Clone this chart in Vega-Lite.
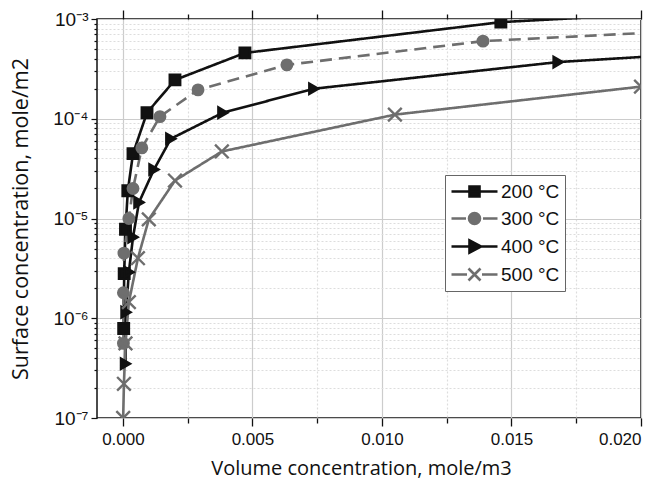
{
  "$schema": "https://vega.github.io/schema/vega-lite/v6.json",
  "width": 544,
  "height": 399,
  "autosize": {"type": "none"},
  "padding": {"left": 97, "top": 19, "right": 26, "bottom": 72},
  "background": "white",
  "config": {
    "view": {"stroke": "#111", "strokeWidth": 1.5},
    "axis": {"labelFont": "Liberation Sans", "titleFont": "Open Sans", "titleFontWeight": "normal", "labelColor": "#111", "titleColor": "#111"}
  },
  "data": {"values": [
    {"T": "200 °C", "x": 0.025, "y": 0.0013},
    {"T": "200 °C", "x": 0.01459, "y": 0.00093},
    {"T": "200 °C", "x": 0.00471, "y": 0.000457},
    {"T": "200 °C", "x": 0.00201, "y": 0.000245},
    {"T": "200 °C", "x": 0.00093, "y": 0.000115},
    {"T": "200 °C", "x": 0.00039, "y": 0.0000447},
    {"T": "200 °C", "x": 0.00019, "y": 0.000019},
    {"T": "200 °C", "x": 0.0001, "y": 0.0000078},
    {"T": "200 °C", "x": 0.00005, "y": 0.0000028},
    {"T": "200 °C", "x": 0.00003, "y": 0.00000079},
    {"T": "300 °C", "x": 0.025, "y": 0.00084},
    {"T": "300 °C", "x": 0.0139, "y": 0.0006},
    {"T": "300 °C", "x": 0.00633, "y": 0.000347},
    {"T": "300 °C", "x": 0.0029, "y": 0.000195},
    {"T": "300 °C", "x": 0.00143, "y": 0.000105},
    {"T": "300 °C", "x": 0.00073, "y": 0.000051},
    {"T": "300 °C", "x": 0.00039, "y": 0.00002},
    {"T": "300 °C", "x": 0.00023, "y": 0.00001},
    {"T": "300 °C", "x": 0.00004, "y": 0.0000045},
    {"T": "300 °C", "x": 0.00002, "y": 0.0000018},
    {"T": "300 °C", "x": 0.00002, "y": 0.00000056},
    {"T": "400 °C", "x": 0.025, "y": 0.0005},
    {"T": "400 °C", "x": 0.0168, "y": 0.00037},
    {"T": "400 °C", "x": 0.00737, "y": 0.0002},
    {"T": "400 °C", "x": 0.00386, "y": 0.000115},
    {"T": "400 °C", "x": 0.00185, "y": 0.000063},
    {"T": "400 °C", "x": 0.0012, "y": 0.000031},
    {"T": "400 °C", "x": 0.00062, "y": 0.0000145},
    {"T": "400 °C", "x": 0.00039, "y": 0.0000065},
    {"T": "400 °C", "x": 0.00023, "y": 0.0000029},
    {"T": "400 °C", "x": 0.00012, "y": 0.00000115},
    {"T": "400 °C", "x": 0.0001, "y": 0.00000035},
    {"T": "500 °C", "x": 0.02, "y": 0.00021},
    {"T": "500 °C", "x": 0.0105, "y": 0.00011},
    {"T": "500 °C", "x": 0.00382, "y": 0.000047},
    {"T": "500 °C", "x": 0.00201, "y": 0.000024},
    {"T": "500 °C", "x": 0.001, "y": 0.0000098},
    {"T": "500 °C", "x": 0.00058, "y": 0.000004},
    {"T": "500 °C", "x": 0.00023, "y": 0.00000145},
    {"T": "500 °C", "x": 0.0001, "y": 0.00000056},
    {"T": "500 °C", "x": 0.00004, "y": 0.00000022},
    {"T": "500 °C", "x": 0.00001, "y": 0.0000001}
  ]},
  "resolve": {
    "axis": {"x": "independent"},
    "scale": {"shape": "independent", "color": "independent", "stroke": "independent"}
  },
  "layer": [
    {
      "mark": {"type": "line", "clip": true, "strokeWidth": 2.6},
      "encoding": {
        "x": {
          "field": "x", "type": "quantitative",
          "scale": {"domain": [-0.001, 0.02], "nice": false, "zero": false},
          "axis": {
            "title": "Volume concentration, mole/m3",
            "titleFontSize": 20, "titlePadding": 11, "titleX": 264,
            "values": [0, 0.0025, 0.005, 0.0075, 0.01, 0.0125, 0.015, 0.0175, 0.02],
            "labelExpr": "abs(datum.value*200 - round(datum.value*200)) < 0.001 ? format(datum.value, '.3f') : ''",
            "labelFontSize": 17, "labelPadding": 5,
            "domain": false,
            "tickColor": "#111", "tickWidth": 1.3,
            "tickSize": {"condition": {"test": "abs(datum.value*200 - round(datum.value*200)) < 0.001", "value": 8}, "value": 5},
            "grid": true,
            "gridColor": {"condition": {"test": "abs(datum.value*200 - round(datum.value*200)) < 0.001", "value": "#cccccc"}, "value": "#dddddd"},
            "gridDash": {"condition": {"test": "abs(datum.value*200 - round(datum.value*200)) < 0.001", "value": []}, "value": [2, 2]},
            "gridWidth": 1.2
          }
        },
        "y": {
          "field": "y", "type": "quantitative",
          "scale": {"type": "log", "domain": [1e-7, 0.001], "nice": false},
          "axis": {
            "title": "Surface concentration, mole/m2",
            "titleFontSize": 21.5, "titlePadding": 20,
            "values": [1e-7, 2e-7, 3e-7, 4e-7, 5e-7, 6e-7, 7e-7, 8e-7, 9e-7, 1e-6, 2e-6, 3e-6, 4e-6, 5e-6, 6e-6, 7e-6, 8e-6, 9e-6, 1e-5, 2e-5, 3e-5, 4e-5, 5e-5, 6e-5, 7e-5, 8e-5, 9e-5, 0.0001, 0.0002, 0.0003, 0.0004, 0.0005, 0.0006, 0.0007, 0.0008, 0.0009, 0.001],
            "labelExpr": "abs(log(datum.value)/LN10 - round(log(datum.value)/LN10)) < 0.001 ? '10' + ['⁻⁷','⁻⁶','⁻⁵','⁻⁴','⁻³'][round(log(datum.value)/LN10)+7] : ''",
            "labelFontSize": 19, "labelPadding": 3,
            "domain": false,
            "tickColor": "#111", "tickWidth": 1.2,
            "tickSize": {"condition": {"test": "abs(log(datum.value)/LN10 - round(log(datum.value)/LN10)) < 0.001", "value": 6}, "value": 3},
            "grid": true,
            "gridColor": {"condition": {"test": "abs(log(datum.value)/LN10 - round(log(datum.value)/LN10)) < 0.001", "value": "#cccccc"}, "value": "#dddddd"},
            "gridDash": {"condition": {"test": "abs(log(datum.value)/LN10 - round(log(datum.value)/LN10)) < 0.001", "value": []}, "value": [2, 2]},
            "gridWidth": 1.2
          }
        },
        "color": {
          "field": "T", "type": "nominal",
          "scale": {"domain": ["200 °C", "300 °C", "400 °C", "500 °C"], "range": ["#111111", "#6e6e6e", "#111111", "#6e6e6e"]},
          "legend": null
        },
        "strokeDash": {
          "field": "T", "type": "nominal",
          "scale": {"domain": ["200 °C", "300 °C", "400 °C", "500 °C"], "range": [[1, 0], [12, 7], [1, 0], [1, 0]]},
          "legend": null
        }
      }
    },
    {
      "mark": {"type": "point", "clip": true, "filled": true, "size": 110, "strokeWidth": 2.4, "opacity": 1},
      "encoding": {
        "x": {
          "field": "x", "type": "quantitative",
          "axis": {
            "orient": "top", "title": null, "labels": false, "domain": false, "grid": false,
            "values": [0, 0.0025, 0.005, 0.0075, 0.01, 0.0125, 0.015, 0.0175, 0.02],
            "tickColor": "#111", "tickWidth": 1.3,
            "tickSize": {"condition": {"test": "abs(datum.value*200 - round(datum.value*200)) < 0.001", "value": 9}, "value": 5}
          }
        },
        "y": {"field": "y", "type": "quantitative"},
        "shape": {
          "field": "T", "type": "nominal",
          "scale": {"domain": ["200 °C", "300 °C", "400 °C", "500 °C"], "range": ["square", "circle", "triangle-right", "M-1.3,-1.3L1.3,1.3M1.3,-1.3L-1.3,1.3"]},
          "legend": null
        },
        "stroke": {
          "field": "T", "type": "nominal",
          "scale": {"domain": ["200 °C", "300 °C", "400 °C", "500 °C"], "range": ["#111111", "#6e6e6e", "#111111", "#6e6e6e"]},
          "legend": null
        },
        "color": {
          "field": "T", "type": "nominal",
          "scale": {"domain": ["200 °C", "300 °C", "400 °C", "500 °C"], "range": ["#111111", "#6e6e6e", "#111111", "#6e6e6e"]},
          "legend": null
        }
      }
    },
    {
      "transform": [{"filter": "datum.x > 1"}],
      "mark": {"type": "point", "filled": true, "strokeWidth": 2.6, "opacity": 1},
      "encoding": {
        "shape": {
          "field": "T", "type": "nominal",
          "scale": {"domain": ["200 °C", "300 °C", "400 °C", "500 °C"], "range": [
            "M-2.3,0H2.3M-0.5,-0.5H0.5V0.5H-0.5Z",
            "M-2.3,0H-0.85M0.85,0H2.3M0.55,0A0.55,0.55 0 1,1 -0.55,0A0.55,0.55 0 1,1 0.55,0Z",
            "M-2.3,0H2.3M-0.5,-0.6L0.65,0L-0.5,0.6Z",
            "M-2.3,0H-0.75M0.75,0H2.3M-0.6,-0.6L0.6,0.6M0.6,-0.6L-0.6,0.6"
          ]},
          "legend": {
            "title": null, "orient": "none", "legendX": 348, "legendY": 156,
            "symbolSize": 400, "symbolStrokeWidth": 2.6, "symbolOffset": 13, "symbolOpacity": 1,
            "labelOffset": 15, "labelFont": "Liberation Sans", "labelFontSize": 19, "labelColor": "#111",
            "rowPadding": 5, "padding": 5,
            "strokeColor": "#666", "fillColor": "white"
          }
        },
        "color": {
          "field": "T", "type": "nominal",
          "scale": {"domain": ["200 °C", "300 °C", "400 °C", "500 °C"], "range": ["#111111", "#6e6e6e", "#111111", "#6e6e6e"]}
        },
        "stroke": {
          "field": "T", "type": "nominal",
          "scale": {"domain": ["200 °C", "300 °C", "400 °C", "500 °C"], "range": ["#111111", "#6e6e6e", "#111111", "#6e6e6e"]}
        }
      }
    }
  ]
}
